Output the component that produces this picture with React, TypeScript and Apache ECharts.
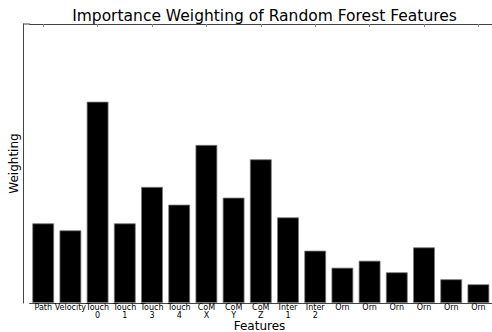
import React, { useEffect, useRef } from "react";
import * as echarts from "echarts";

const categories = [
  "Path", "Velocity", "Touch\n0", "Touch\n1", "Touch\n3", "Touch\n4",
  "CoM\nX", "CoM\nY", "CoM\nZ", "Inter\n1", "Inter\n2",
  "Orn", "Orn", "Orn", "Orn", "Orn", "Orn",
];
const weights = [
  0.0571, 0.0521, 0.1443, 0.0571, 0.0832, 0.0705,
  0.1133, 0.0755, 0.103, 0.0614, 0.0375,
  0.0253, 0.0303, 0.022, 0.0399, 0.017, 0.0134,
];
const titleText = "Importance Weighting of Random Forest Features";
const xLabel = "Features";
const yLabel = "Weighting";
const yMax = 0.2;

const FONT = "DejaVu Sans";

export default function App() {
  const ref = useRef<HTMLDivElement>(null);
  useEffect(() => {
    if (!ref.current) return;
    const chart = echarts.init(ref.current, null, { renderer: "svg" });
    chart.setOption({
      animation: false,
      backgroundColor: "#ffffff",
      title: {
        text: titleText,
        left: 259.5,
        top: 3,
        textAlign: "center",
        textStyle: { fontFamily: FONT, fontSize: 15.5, fontWeight: "normal", color: "#000" },
      },
      grid: { left: 29.6, right: -4.4, top: 24, bottom: 29 },
      xAxis: [
        {
          type: "category",
          data: categories,
          position: "bottom",
          axisLine: { show: true, lineStyle: { color: "#444", width: 1 } },
          axisTick: { show: false },
          axisLabel: {
            interval: 0,
            margin: 1,
            fontFamily: FONT,
            fontSize: 8,
            lineHeight: 7.6,
            color: "#000",
          },
        },
        {
          type: "category",
          data: categories,
          position: "top",
          axisLine: { show: true, lineStyle: { color: "#444", width: 1 } },
          axisTick: { show: true, inside: true, length: 3, alignWithLabel: true, lineStyle: { color: "#888" } },
          axisLabel: { show: false },
        },
      ],
      yAxis: {
        type: "value",
        min: 0,
        max: yMax,
        offset: 6.6,
        axisLine: { show: true, lineStyle: { color: "#444", width: 1 } },
        axisTick: { show: false },
        axisLabel: { show: false },
        splitLine: { show: false },
        name: yLabel,
        nameLocation: "middle",
        nameRotate: 90,
        nameGap: 3,
        nameTextStyle: { fontFamily: FONT, fontSize: 12, color: "#000" },
      },
      series: [
        {
          type: "bar",
          data: weights,
          barWidth: "80%",
          itemStyle: { color: "#000", borderColor: "#777", borderWidth: 0.8 },
        },
      ],
      graphic: [
        {
          type: "line",
          shape: { x1: 23, y1: 24, x2: 30, y2: 24 },
          style: { stroke: "#444", lineWidth: 1 },
        },
        {
          type: "text",
          x: 259.5,
          y: 332,
          style: {
            text: xLabel,
            fontFamily: FONT,
            fontSize: 12,
            fill: "#000",
            textAlign: "center",
            textVerticalAlign: "bottom",
          },
        },
      ],
    });
    return () => chart.dispose();
  }, []);
  return <div ref={ref} style={{ position: "fixed", left: 0, top: 0, width: 492, height: 332 }} />;
}
